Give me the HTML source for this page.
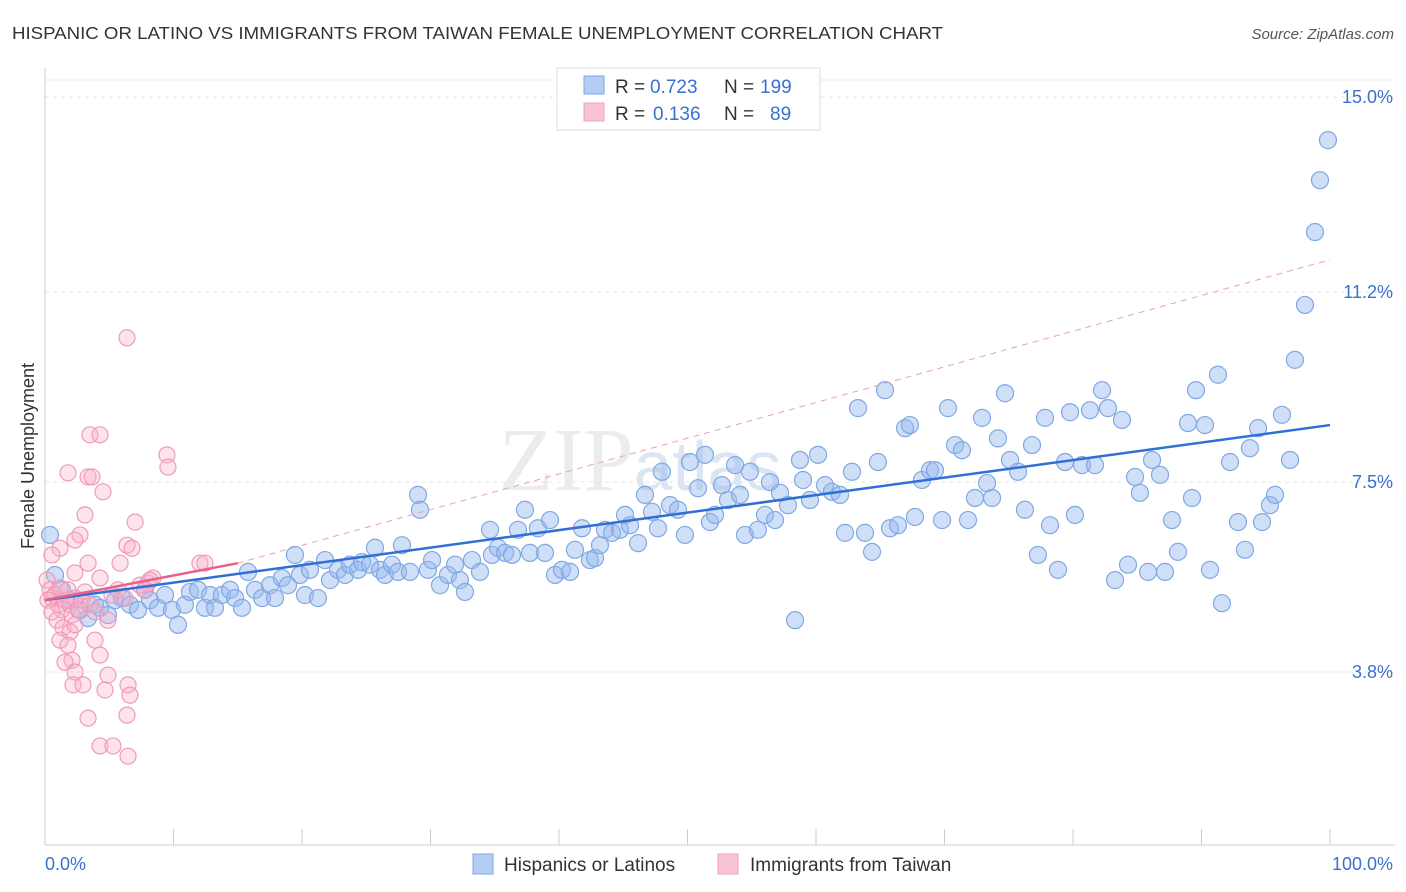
<!DOCTYPE html>
<html><head><meta charset="utf-8">
<style>
body{margin:0;background:#fff;font-family:"Liberation Sans",sans-serif;}
svg{display:block}
</style></head>
<body>
<svg id="chart" width="1406" height="892" xmlns="http://www.w3.org/2000/svg">
<text x="12" y="39" font-size="17.5" fill="#333" textLength="931" lengthAdjust="spacingAndGlyphs">HISPANIC OR LATINO VS IMMIGRANTS FROM TAIWAN FEMALE UNEMPLOYMENT CORRELATION CHART</text>
<text x="1394" y="39" font-size="15" fill="#555" font-style="italic" text-anchor="end">Source: ZipAtlas.com</text>
<text x="640" y="490" font-size="90" fill="#ececec" font-family="Liberation Serif,serif" text-anchor="middle">ZIP<tspan fill="#dbe5f3" font-family="Liberation Sans,sans-serif" font-size="70">atlas</tspan></text>
<text transform="translate(34,456) rotate(-90)" font-size="18" fill="#333" text-anchor="middle">Female Unemployment</text>
<g id="grid"></g><g id="axes"></g><g id="pts"></g><g id="lines"></g>
<g>
<rect x="557" y="68" width="263" height="62" fill="#fff" stroke="#ddd"/>
<rect x="584" y="76" width="20" height="18" fill="#b3cdf5" stroke="#7fa6e0"/>
<rect x="584" y="103" width="20" height="18" fill="#f8c3d4" stroke="#f0a0bc"/>
<text y="93" font-size="19" fill="#333"><tspan x="615">R =</tspan><tspan x="650" fill="#3a70d0">0.723</tspan><tspan x="724">N =</tspan><tspan x="760" fill="#3a70d0">199</tspan></text>
<text y="120" font-size="19" fill="#333"><tspan x="615">R =</tspan><tspan x="653" fill="#3a70d0">0.136</tspan><tspan x="724">N =</tspan><tspan x="770" fill="#3a70d0">89</tspan></text>
</g>
<g>
<rect x="473" y="854" width="20" height="20" fill="#b3cdf5" stroke="#7fa6e0"/>
<text x="504" y="871" font-size="19" fill="#333">Hispanics or Latinos</text>
<rect x="718" y="854" width="20" height="20" fill="#f8c3d4" stroke="#f0a0bc"/>
<text x="750" y="871" font-size="19" fill="#333">Immigrants from Taiwan</text>
</g>
</svg>
<script>
const yTicks=[15.0,11.2,7.5,3.8];
const yTickLabels=["15.0%","11.2%","7.5%","3.8%"];
const xEndLabels=["0.0%","100.0%"];
const blueX=[0.39,0.78,1.32,1.95,2.72,3.35,3.89,4.28,4.90,5.45,5.99,6.61,7.24,7.78,8.17,8.79,9.34,9.88,10.35,10.89,11.28,11.91,12.45,12.84,13.23,13.77,14.40,14.79,15.33,15.80,16.34,16.89,17.51,17.90,18.44,18.91,19.45,19.84,20.23,20.62,21.24,21.79,22.18,22.80,23.35,23.73,24.36,24.67,25.29,25.68,26.07,26.46,27.00,27.47,27.78,28.40,29.03,29.18,29.80,30.12,30.74,31.36,31.91,32.29,32.68,33.23,33.85,34.63,34.78,35.25,35.80,36.34,36.81,37.35,37.74,38.36,38.91,39.30,39.69,40.23,40.86,41.24,41.79,42.41,42.80,43.19,43.58,44.13,44.75,45.14,45.53,46.15,46.69,47.24,47.70,48.01,48.64,49.26,49.80,50.19,50.82,51.36,51.75,52.14,52.68,53.15,53.70,54.08,54.47,54.86,55.48,56.03,56.42,56.81,57.20,57.82,58.37,58.75,58.99,59.53,60.16,60.70,61.24,61.87,62.26,62.80,63.27,63.81,64.36,64.82,65.37,65.76,66.38,66.93,67.31,67.70,68.25,68.87,69.26,69.81,70.27,70.82,71.36,71.83,72.37,72.92,73.31,73.70,74.16,74.71,75.10,75.72,76.26,76.81,77.27,77.82,78.21,78.83,79.38,79.77,80.15,80.70,81.32,81.71,82.26,82.72,83.27,83.81,84.28,84.83,85.21,85.84,86.15,86.77,87.16,87.70,88.17,88.95,89.26,89.57,90.27,90.66,91.28,91.59,92.22,92.84,93.38,93.77,94.40,94.71,95.33,95.72,96.26,96.89,97.27,98.05,98.83,99.22,99.84];
const blueY=[6.47,5.69,5.40,5.20,5.01,4.85,5.11,5.05,4.91,5.20,5.24,5.11,5.01,5.40,5.20,5.05,5.30,5.01,4.72,5.11,5.36,5.40,5.05,5.30,5.05,5.30,5.40,5.24,5.05,5.75,5.40,5.24,5.49,5.24,5.63,5.49,6.08,5.69,5.30,5.79,5.24,5.98,5.59,5.79,5.69,5.89,5.79,5.94,5.89,6.22,5.79,5.69,5.89,5.75,6.27,5.75,7.25,6.96,5.79,5.98,5.49,5.69,5.89,5.59,5.36,5.98,5.75,6.57,6.08,6.22,6.12,6.08,6.57,6.96,6.12,6.60,6.12,6.76,5.69,5.79,5.75,6.18,6.60,5.98,6.02,6.27,6.57,6.51,6.57,6.86,6.66,6.31,7.25,6.92,6.60,7.70,7.05,6.96,6.47,7.89,7.38,8.03,6.72,6.86,7.44,7.15,7.83,7.25,6.47,7.70,6.57,6.86,7.50,6.76,7.29,7.05,4.81,7.93,7.54,7.15,8.03,7.44,7.31,7.25,6.51,7.70,8.94,6.51,6.14,7.89,9.29,6.60,6.66,8.55,8.61,6.82,7.54,7.73,7.73,6.76,8.94,8.22,8.12,6.76,7.19,8.75,7.48,7.19,8.35,9.23,7.93,7.70,6.96,8.22,6.08,8.75,6.66,5.79,7.89,8.86,6.86,7.83,8.90,7.83,9.29,8.94,5.59,8.71,5.89,7.60,7.29,5.75,7.93,7.64,5.75,6.76,6.14,8.65,7.19,9.29,8.61,5.79,9.59,5.14,7.89,6.72,6.18,8.16,8.55,6.72,7.05,7.25,8.81,7.93,9.88,10.95,12.37,13.38,14.16];
const pinkX=[6.38,3.50,4.28,1.79,3.35,3.66,4.51,9.49,9.57,3.11,7.01,2.72,2.33,6.38,6.77,1.17,0.54,3.35,5.84,12.06,12.45,2.33,4.28,8.40,8.01,0.16,0.39,0.54,0.78,1.01,1.17,1.32,1.56,1.79,1.95,2.10,2.33,2.57,2.88,3.11,3.50,3.89,4.90,5.21,5.68,6.22,7.39,7.78,8.17,0.23,0.54,0.93,1.40,1.95,2.33,1.17,1.79,3.89,2.10,1.56,4.28,2.33,4.90,2.18,2.96,4.67,6.46,6.61,3.35,6.38,4.28,5.29,6.46];
const pinkY=[10.31,8.42,8.42,7.68,7.60,7.60,7.31,8.03,7.79,6.86,6.72,6.47,6.37,6.27,6.21,6.21,6.08,5.92,5.92,5.92,5.92,5.73,5.63,5.63,5.53,5.59,5.40,5.24,5.30,5.11,5.44,5.01,5.20,5.40,5.11,4.91,5.24,5.01,5.20,5.36,5.11,4.97,4.81,5.30,5.40,5.24,5.49,5.40,5.59,5.20,4.97,4.81,4.66,4.58,4.72,4.42,4.32,4.42,4.03,3.99,4.13,3.80,3.74,3.55,3.55,3.45,3.55,3.35,2.90,2.96,2.36,2.36,2.16];
const blueTrend=[0,5.20,100,8.61];
const pinkTrend=[0,5.20,15,5.92,100,11.83];

const NS="http://www.w3.org/2000/svg";
const sx=v=>45+v*12.85;
const sy=v=>97+(15-v)*51.34;
function mk(t,a,p){const e=document.createElementNS(NS,t);for(const k in a)e.setAttribute(k,a[k]);p.appendChild(e);return e;}
const grid=document.getElementById('grid'),axes=document.getElementById('axes'),pts=document.getElementById('pts'),lines=document.getElementById('lines');
let g0=mk('line',{x1:45,x2:1395,y1:80,y2:80,stroke:'#e6e6e6','stroke-dasharray':'4,4'},grid);


yTicks.forEach((v,i)=>{
 const l=mk('line',{x1:45,x2:1395,y1:sy(v),y2:sy(v),stroke:'#e6e6e6','stroke-dasharray':'4,4'},grid);
 
 
 const t=mk('text',{x:1393,y:sy(v)+6,'font-size':18,fill:'#3a70d0','text-anchor':'end'},axes);
 t.textContent=yTickLabels[i];
 
 
});
const ya=mk('line',{x1:45,x2:45,y1:68,y2:845,stroke:'#ccc'},axes);


const xa=mk('line',{x1:45,x2:1395,y1:845,y2:845,stroke:'#ccc'},axes);


for(let i=0;i<=10;i++){
 const tk=mk('line',{x1:sx(i*10),x2:sx(i*10),y1:829,y2:845,stroke:'#ccc'},axes);
 
 
}
[[0,'start',45],[1,'end',1393]].forEach(([i,a,x])=>{
 const t=mk('text',{x:x,y:870,'font-size':18,fill:'#3a70d0','text-anchor':a},axes);
 t.textContent=xEndLabels[i];
 
 
});
blueX.forEach((x,i)=>{
 const c=mk('circle',{cx:sx(x),cy:sy(blueY[i]),r:8.5,fill:'rgba(150,185,240,0.45)',stroke:'#80a8e2','stroke-width':1.2},pts);
 
 
});
pinkX.forEach((x,i)=>{
 const c=mk('circle',{cx:sx(x),cy:sy(pinkY[i]),r:8,fill:'rgba(248,175,200,0.35)',stroke:'#f09ab8','stroke-width':1.2},pts);
 
 
});
const bl=mk('line',{x1:sx(blueTrend[0]),y1:sy(blueTrend[1]),x2:sx(blueTrend[2]),y2:sy(blueTrend[3]),stroke:'#2f6fd6','stroke-width':2.5},lines);


const pd=mk('line',{x1:sx(pinkTrend[2]),y1:sy(pinkTrend[3]),x2:sx(pinkTrend[4]),y2:sy(pinkTrend[5]),stroke:'#e8a0b8','stroke-width':1,'stroke-dasharray':'6,5'},lines);


const pl=mk('line',{x1:sx(pinkTrend[0]),y1:sy(pinkTrend[1]),x2:sx(pinkTrend[2]),y2:sy(pinkTrend[3]),stroke:'#e8608a','stroke-width':2.5},lines);


</script>
</body></html>
